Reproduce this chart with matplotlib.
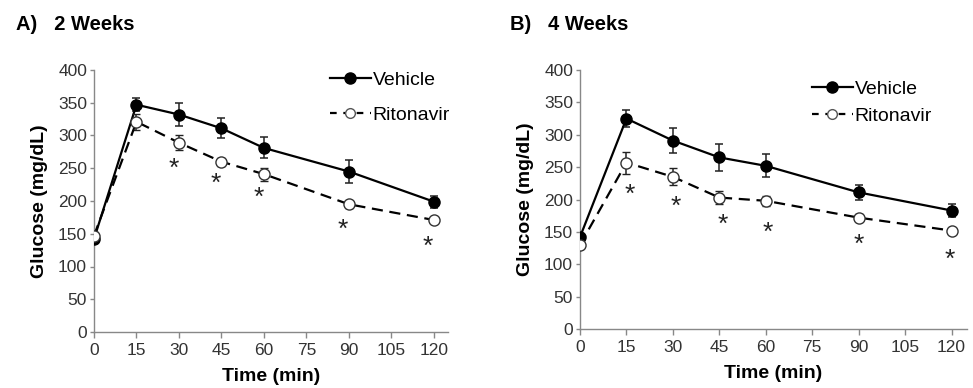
import matplotlib.pyplot as plt
from matplotlib.lines import Line2D

plt.rcParams['font.family'] = ['Liberation Sans', 'DejaVu Sans']

time = [0, 15, 30, 45, 60, 90, 120]
x_ticks = [0, 15, 30, 45, 60, 75, 90, 105, 120]

# panel A: 2 weeks
veh_2w = [142, 347, 332, 311, 281, 245, 199]
veh_2w_err = [5, 10, 17, 15, 16, 17, 9]
rit_2w = [147, 321, 289, 260, 241, 195, 171]
rit_2w_err = [5, 12, 11, 6, 10, 5, 5]
star_2w_x = [28, 43, 58, 88, 118]
star_2w_y = [258, 236, 214, 166, 140]

# panel B: 4 weeks
veh_4w = [142, 325, 291, 265, 252, 211, 183]
veh_4w_err = [5, 13, 19, 21, 18, 12, 10]
rit_4w = [130, 257, 235, 203, 198, 172, 152]
rit_4w_err = [4, 17, 13, 10, 8, 5, 4]
star_4w_x = [16, 31, 46, 60.5, 90, 119.5]
star_4w_y = [217, 199, 171, 158, 139, 117]

fig = plt.figure(figsize=(9.73, 3.88), dpi=100)
axA = fig.add_axes([94 / 973, 1 - 332 / 388, 354 / 973, 262 / 388])
axB = fig.add_axes([580 / 973, 1 - 329 / 388, 387 / 973, 259 / 388])

panels = [
    (axA, veh_2w, veh_2w_err, rit_2w, rit_2w_err, star_2w_x, star_2w_y, 'A)   2 Weeks', 16 / 973, (330 / 973, 1 - 71 / 388), 0.9),
    (axB, veh_4w, veh_4w_err, rit_4w, rit_4w_err, star_4w_x, star_4w_y, 'B)   4 Weeks', 510 / 973, (812 / 973, 1 - 80 / 388), 0.48),
]

dash = (0, (5, 3))

for ax, veh, veh_err, rit, rit_err, sx, sy, title, tx, leg_pos, lsp in panels:
    ax.errorbar(time, veh, yerr=veh_err, color='black', lw=1.6,
                marker='o', ms=8, mfc='black', mec='black',
                ecolor='#222222', elinewidth=1.1, capsize=3, capthick=1.1, zorder=3)
    ax.errorbar(time, rit, yerr=rit_err, color='black', lw=1.6, ls=dash,
                marker='o', ms=8, mfc='white', mec='#333333', mew=1.0,
                ecolor='#222222', elinewidth=1.1, capsize=3, capthick=1.1, zorder=4)
    for x, y in zip(sx, sy):
        ax.annotate('*', (x, y), xytext=(0, -4.5), textcoords='offset points',
                    ha='center', va='center', fontsize=19, color='#222222')

    ax.set_xlim(0, 125)
    ax.set_ylim(0, 400)
    ax.set_xticks(x_ticks)
    ax.set_yticks(range(0, 401, 50))
    ax.tick_params(axis='both', labelsize=12.5, colors='#333333', width=1, color='#888888')
    ax.tick_params(axis='x', pad=4, length=4)
    ax.tick_params(axis='y', pad=2, length=3)
    for side in ['top', 'right']:
        ax.spines[side].set_visible(False)
    for side in ['left', 'bottom']:
        ax.spines[side].set_color('#888888')
        ax.spines[side].set_linewidth(1)
    ax.set_xlabel('Time (min)', fontsize=14, fontweight='bold', labelpad=7)
    ax.set_ylabel('Glucose (mg/dL)', fontsize=14, fontweight='bold', labelpad=7)

    handles = [
        Line2D([], [], color='black', lw=1.6, marker='o', ms=8, mfc='black', mec='black'),
        Line2D([], [], color='black', lw=1.6, ls=(0, (3, 3)), marker='o', ms=7,
               mfc='white', mec='#555555', mew=1.0),
    ]
    ax.legend(handles, ['Vehicle', 'Ritonavir'], loc='upper left', bbox_to_anchor=leg_pos,
              bbox_transform=fig.transFigure, frameon=False, fontsize=14,
              handlelength=2.1, handletextpad=0.1, labelspacing=lsp,
              borderaxespad=0, borderpad=0)

    fig.text(tx, 1 - 24 / 388, title, fontsize=14.5, fontweight='bold', va='center', ha='left')

fig.savefig('out.png', dpi=100)
